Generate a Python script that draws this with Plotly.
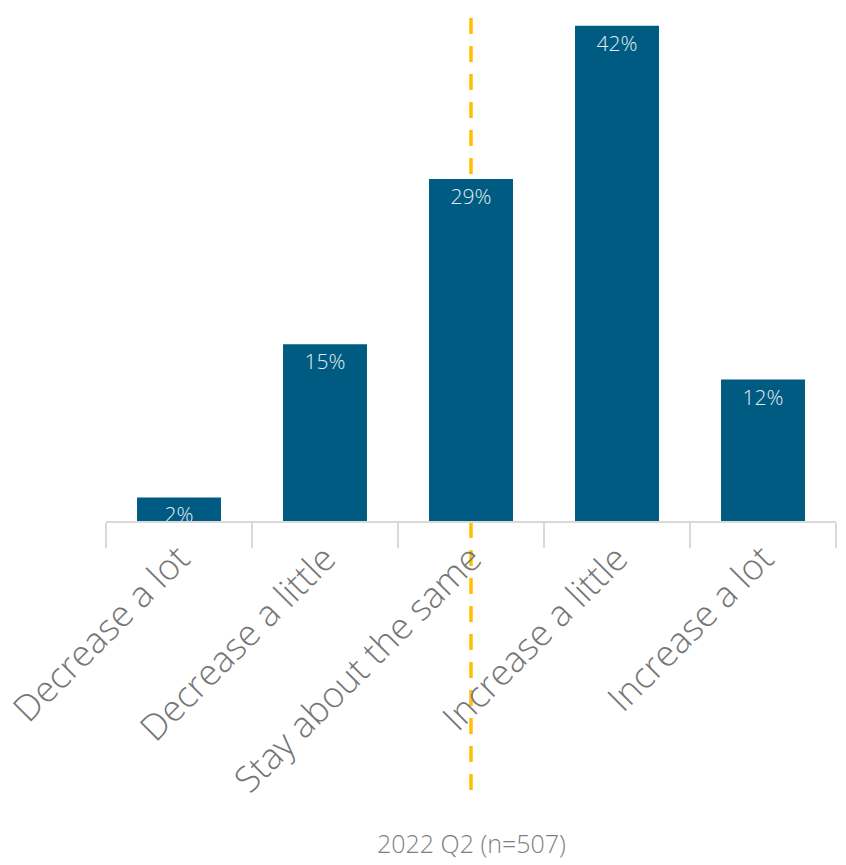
import plotly.graph_objects as go

categories = ["Decrease a lot", "Decrease a little", "Stay about the same", "Increase a little", "Increase a lot"]
values = [2, 15, 29, 42, 12]
value_labels = ["2%", "15%", "29%", "42%", "12%"]
marker_category = "Stay about the same"
footer_text = "2022 Q2 (n=507)"

# page body has an 8px margin; figure sized to fill the rest of the window
W, H = 838, 857
mt, ml, mr = 0, 98, 10
plot_bottom = 513
mb = H - plot_bottom
plot_h = plot_bottom - mt
FONT = "Open Sans"

fig = go.Figure()
fig.add_trace(go.Bar(
    x=categories, y=values, text=value_labels,
    textposition="inside", insidetextanchor="end", constraintext="none",
    textfont=dict(color="#E4ECF2", size=21, family=FONT, weight=300),
    marker=dict(color="#005B82", line=dict(width=0)),
    cliponaxis=False,
    hoverinfo="skip",
))

y0p = (plot_h - 782) / plot_h
fig.add_shape(type="line", xref="x", yref="paper",
              x0=marker_category, x1=marker_category, y0=y0p, y1=1.0,
              line=dict(color="#FFC000", width=3.5, dash="16px,12px"), layer="below")

fig.add_annotation(text=footer_text, xref="paper", yref="paper",
                   x=0.5, y=(plot_h - 835) / plot_h,
                   showarrow=False, xanchor="center", yanchor="middle",
                   font=dict(size=25, color="#7F7F7F", family=FONT, weight=300))

fig.update_layout(
    width=W, height=H,
    margin=dict(t=mt, b=mb, l=ml, r=mr, pad=0, autoexpand=False),
    plot_bgcolor="rgba(0,0,0,0)", paper_bgcolor="white",
    bargap=0.425, showlegend=False,
    xaxis=dict(
        tickangle=-45, tickson="boundaries", ticks="outside", ticklen=25,
        tickcolor="#D9D9D9", tickwidth=2,
        showline=True, linecolor="#D9D9D9", linewidth=2,
        tickfont=dict(size=36, color="#767676", family=FONT, weight=300),
        showgrid=False, zeroline=False, automargin=False,
    ),
    yaxis=dict(range=[0, plot_h / 11.79], visible=False, showgrid=False, zeroline=False,
               automargin=False),
)

fig.write_html("out.html")
